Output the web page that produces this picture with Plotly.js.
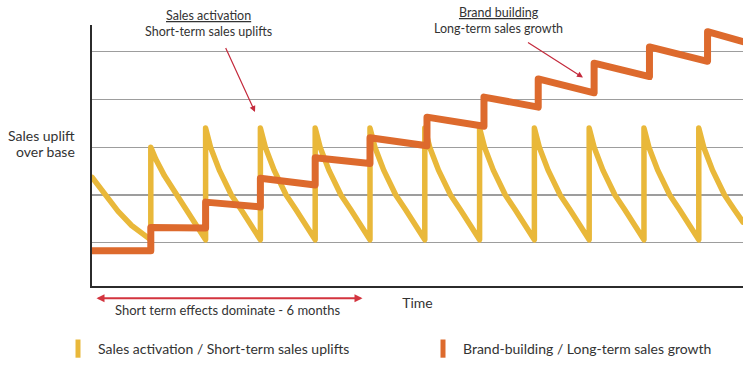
<!DOCTYPE html>
<html>
<head>
<meta charset="utf-8">
<script src="https://cdn.plot.ly/plotly-3.0.1.min.js"></script>
<style>
  html, body { margin: 0; padding: 0; background: #fff; }
  #chart { width: 755px; height: 365px; }
  .scatterlayer .js-line { stroke-linejoin: round; stroke-linecap: round; }
</style>
</head>
<body>
<div id="chart"></div>
<script>
// ---- Data ----
// time in "activation cycles" (one burst per unit)
const salesTime = [
  -0.073, 0.16, 0.4, 0.65, 0.85, 1,
  1, 1.09, 1.25, 1.47, 1.65, 1.8, 2,
  2, 2.09, 2.25, 2.47, 2.65, 2.8, 3,
  3, 3.09, 3.25, 3.47, 3.65, 3.8, 4,
  4, 4.09, 4.25, 4.47, 4.65, 4.8, 5,
  5, 5.09, 5.25, 5.47, 5.65, 5.8, 6,
  6, 6.09, 6.25, 6.47, 6.65, 6.8, 7,
  7, 7.09, 7.25, 7.47, 7.65, 7.8, 8,
  8, 8.09, 8.25, 8.47, 8.65, 8.8, 9,
  9, 9.09, 9.25, 9.47, 9.65, 9.8, 10,
  10, 10.09, 10.25, 10.47, 10.65, 10.8, 11,
  11, 11.09, 11.25, 11.47, 11.65, 11.807
];
const salesUplift = [
  2.37, 2.0, 1.66, 1.36, 1.18, 1.06,
  3.0, 2.75, 2.4, 2.0, 1.69, 1.44, 1.06,
  3.4, 3.0, 2.52, 2.0, 1.69, 1.44, 1.06,
  3.4, 3.0, 2.52, 2.0, 1.69, 1.44, 1.06,
  3.4, 3.0, 2.52, 2.0, 1.69, 1.44, 1.06,
  3.4, 3.0, 2.52, 2.0, 1.69, 1.44, 1.06,
  3.4, 3.0, 2.52, 2.0, 1.69, 1.44, 1.06,
  3.4, 3.0, 2.52, 2.0, 1.69, 1.44, 1.06,
  3.4, 3.0, 2.52, 2.0, 1.69, 1.44, 1.06,
  3.4, 3.0, 2.52, 2.0, 1.69, 1.44, 1.06,
  3.4, 3.0, 2.52, 2.0, 1.69, 1.44, 1.06,
  3.4, 3.0, 2.52, 2.0, 1.69, 1.43
];
const brandTime = [
  -0.073, 1, 1, 2, 2, 3, 3, 4, 4, 5, 5, 6.04,
  6.04, 7.08, 7.08, 8.07, 8.07, 9.09, 9.09, 10.1, 10.1, 11.16, 11.16, 11.807
];
const brandLevel = [
  0.83, 0.83, 1.32, 1.31, 1.85, 1.75, 2.35, 2.21, 2.78, 2.66, 3.2, 3.03,
  3.63, 3.44, 4.05, 3.84, 4.43, 4.14, 4.76, 4.48, 5.1, 4.8, 5.42, 5.21
];
const seriesNames = ['Sales activation / Short-term sales uplifts', 'Brand-building / Long-term sales growth'];
const xTitle = 'Time';
const yTitleLines = ['Sales uplift', 'over base'];
const calloutActivation = ['Sales activation', 'Short-term sales uplifts'];
const calloutBrand = ['Brand building', 'Long-term sales growth'];
const spanLabel = 'Short term effects dominate - 6 months';

// ---- Styles ----
const YELLOW = '#E9B83A';
const ORANGE = '#DD6A2D';
const RED = '#D3343F';
const TEXT = '#333333';
const FONT = 'Lato, "Open Sans", sans-serif';

const traces = [
  { x: salesTime, y: salesUplift, type: 'scatter', mode: 'lines', name: seriesNames[0],
    line: { color: YELLOW, width: 5.5 }, showlegend: false, hoverinfo: 'skip' },
  { x: brandTime, y: brandLevel, type: 'scatter', mode: 'lines', name: seriesNames[1],
    line: { color: ORANGE, width: 7 }, showlegend: false, hoverinfo: 'skip' },
  // legend entries
  { x: [null], y: [null], type: 'scatter', mode: 'markers', name: seriesNames[0], legend: 'legend',
    marker: { symbol: 'line-ns-open', size: 13, color: YELLOW, line: { color: YELLOW, width: 5 } } },
  { x: [null], y: [null], type: 'scatter', mode: 'markers', name: seriesNames[1], legend: 'legend2',
    marker: { symbol: 'line-ns-open', size: 13, color: ORANGE, line: { color: ORANGE, width: 5 } } }
];

const W = 755, H = 365, L = 92, R = 12, T = 25, B = 79;
const pw = W - L - R, ph = H - T - B;
const px2x = p => (p - L) / pw;
const px2y = p => (H - B - p) / ph;

const legendCommon = {
  orientation: 'h', xanchor: 'left', yanchor: 'middle',
  bgcolor: 'rgba(0,0,0,0)', borderwidth: 0,
  font: { family: FONT, size: 14, color: TEXT }, itemwidth: 30
};

const ann = (text, xpx, ypx, opts) => Object.assign({
  text: text, xref: 'paper', yref: 'paper', x: px2x(xpx), y: px2y(ypx),
  xanchor: 'center', yanchor: 'middle', showarrow: false, borderpad: 0,
  font: { family: FONT, size: 13, color: TEXT }
}, opts || {});

const arrow = (hx, hy, tx, ty, opts) => Object.assign({
  text: '', xref: 'paper', yref: 'paper', x: px2x(hx), y: px2y(hy),
  axref: 'pixel', ayref: 'pixel', ax: tx - hx, ay: ty - hy,
  showarrow: true, arrowhead: 2, arrowsize: 1, arrowwidth: 1.2, arrowcolor: '#C42A3C', standoff: 0
}, opts || {});

const layout = {
  width: W, height: H,
  margin: { l: L, r: R, t: T, b: B, pad: 0, autoexpand: false },
  paper_bgcolor: '#ffffff', plot_bgcolor: '#ffffff',
  font: { family: FONT, color: TEXT },
  xaxis: {
    range: [-0.073, 11.807], showgrid: false, zeroline: false, automargin: false,
    showticklabels: false, ticks: '', showline: true, linecolor: '#2b2b2b', linewidth: 2,
    title: { text: xTitle, font: { family: FONT, size: 14, color: TEXT }, standoff: 11 },
    fixedrange: true
  },
  yaxis: {
    range: [0.093, 5.56], tick0: 0, dtick: 1, showgrid: true, gridcolor: '#9d9d9d', gridwidth: 1.4,
    zeroline: false, showticklabels: false, ticks: '', showline: true, linecolor: '#2b2b2b', linewidth: 2,
    automargin: false, fixedrange: true
  },
  showlegend: true,
  legend: Object.assign({}, legendCommon, { x: px2x(58), y: px2y(349) }),
  legend2: Object.assign({}, legendCommon, { x: px2x(423), y: px2y(349) }),
  annotations: [
    ann('<u>' + calloutActivation[0] + '</u><br>' + calloutActivation[1], 208, 23.5, { font: { family: FONT, size: 12.5, color: TEXT } }),
    ann('<u>' + calloutBrand[0] + '</u><br>' + calloutBrand[1], 498.5, 20.8, { font: { family: FONT, size: 12.5, color: TEXT } }),
    ann(yTitleLines[0], 76, 135, { xanchor: 'right', font: { family: FONT, size: 14, color: TEXT } }),
    ann(yTitleLines[1], 76, 151.5, { xanchor: 'right', font: { family: FONT, size: 14, color: TEXT } }),
    ann(spanLabel, 228, 310),
    arrow(255, 112, 225, 46.5),
    arrow(583, 77.5, 526.5, 41.5),
    arrow(362.5, 298.3, 95, 298.3, { arrowside: 'end+start', arrowwidth: 2, arrowcolor: RED, arrowsize: 0.8 })
  ]
};

Plotly.newPlot('chart', traces, layout, { displayModeBar: false, staticPlot: true });
</script>
</body>
</html>
